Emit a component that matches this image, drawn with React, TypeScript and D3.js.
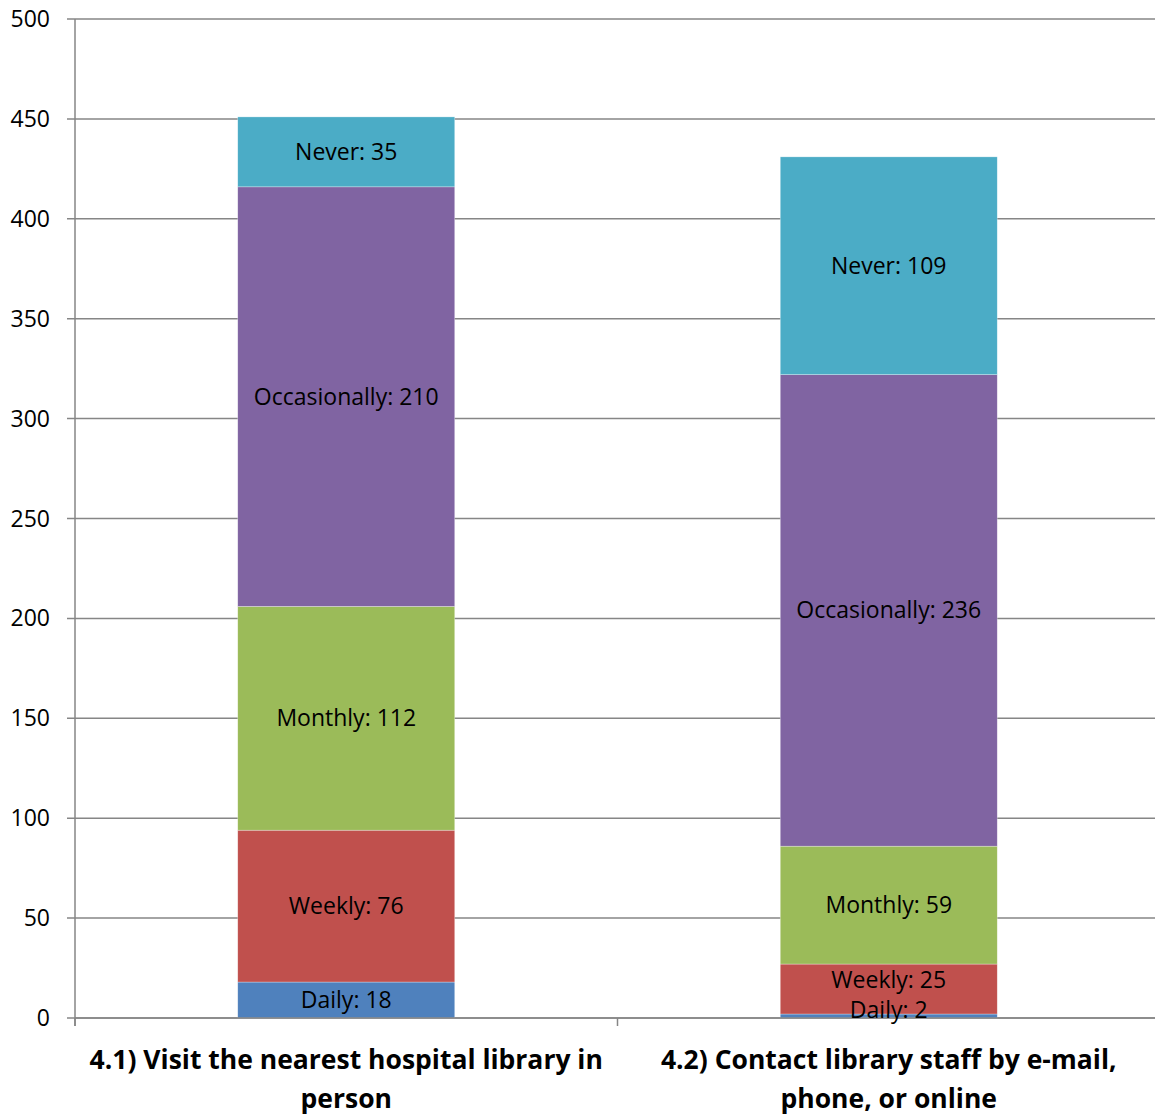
import React from 'react';
import * as d3 from 'd3';

// chart values
const categories = [
  ['4.1) Visit the nearest hospital library in', 'person'],
  ['4.2) Contact library staff by e-mail,', 'phone, or online'],
];
const seriesNames = ['Daily', 'Weekly', 'Monthly', 'Occasionally', 'Never'];
const seriesColors = ['#4F81BD', '#C0504D', '#9BBB59', '#8064A2', '#4BACC6'];
const visitValues = [18, 76, 112, 210, 35];
const contactValues = [2, 25, 59, 236, 109];
const yTicks = [0, 50, 100, 150, 200, 250, 300, 350, 400, 450, 500];
// Excel pushes the crowded labels apart (in value units)
const labelNudge = [
  [0, 0, 0, 0, 0],
  [3, 4.5, 0, 0, 0],
];

const W = 1155;
const H = 1115;
const left = 75;
const right = 1160;
const top = 19;
const bottom = 1018;
const font = '"Open Sans", sans-serif';
const axisColor = '#868686';

export default function App() {
  const values = [visitValues, contactValues];
  const x = d3.scaleBand<number>().domain([0, 1]).range([left, right]).padding(0);
  const y = d3.scaleLinear().domain([0, 500]).range([bottom, top]);
  const barW = x.bandwidth() * 0.4;

  const stack = d3
    .stack<number[], number>()
    .keys(d3.range(seriesNames.length))
    .value((d, k) => d[k]);
  const layers = stack(values);

  return (
    <div style={{ position: 'absolute', left: 0, top: 0 }}>
      <svg width={W} height={H} style={{ display: 'block', background: '#fff' }}>
        {/* gridlines */}
        {yTicks.map(t => (
          <line key={t} x1={left - 8} x2={W} y1={y(t)} y2={y(t)} stroke={axisColor} strokeWidth={1.5} />
        ))}
        {yTicks.map(t => (
          <text key={'l' + t} x={50} y={y(t)} dy="0.35em" textAnchor="end" fontFamily={font} fontSize={23} fill="#000">
            {t}
          </text>
        ))}
        {/* bars */}
        {layers.map((layer, k) =>
          layer.map((seg, i) => {
            const cx = (x(i) as number) + x.bandwidth() / 2;
            const y0 = y(seg[0]);
            const y1 = y(seg[1]);
            return (
              <rect
                key={k + '-' + i}
                x={cx - barW / 2}
                y={y1}
                width={barW}
                height={y0 - y1}
                fill={seriesColors[k]}
                stroke="#fff"
                strokeOpacity={0.5}
                strokeWidth={0.6}
              />
            );
          })
        )}
        {/* axes */}
        <line x1={left} x2={left} y1={top} y2={bottom + 8} stroke={axisColor} strokeWidth={1.5} />
        <line x1={left} x2={W} y1={bottom} y2={bottom} stroke={axisColor} strokeWidth={1.5} />
        {[0, 1, 2].map(i => {
          const xx = i < 2 ? (x(i) as number) : right;
          return <line key={'t' + i} x1={xx} x2={xx} y1={bottom} y2={bottom + 8} stroke={axisColor} strokeWidth={1.5} />;
        })}
        {/* data labels */}
        {layers.map((layer, k) =>
          layer.map((seg, i) => {
            const cx = (x(i) as number) + x.bandwidth() / 2;
            const mid = y((seg[0] + seg[1]) / 2 + labelNudge[i][k]);
            return (
              <text
                key={'d' + k + '-' + i}
                x={cx}
                y={mid}
                dy="0.35em"
                textAnchor="middle"
                fontFamily={font}
                fontSize={23}
                fill="#000"
              >
                {`${seriesNames[k]}: ${values[i][k]}`}
              </text>
            );
          })
        )}
        {/* category labels */}
        {categories.map((lines, i) => {
          const cx = (x(i) as number) + x.bandwidth() / 2;
          return lines.map((ln, j) => (
            <text
              key={'c' + i + j}
              x={cx}
              y={1060 + j * 39}
              dy="0.35em"
              textAnchor="middle"
              fontFamily={font}
              fontWeight="bold"
              fontSize={26.5}
              fill="#000"
            >
              {ln}
            </text>
          ));
        })}
      </svg>
    </div>
  );
}
